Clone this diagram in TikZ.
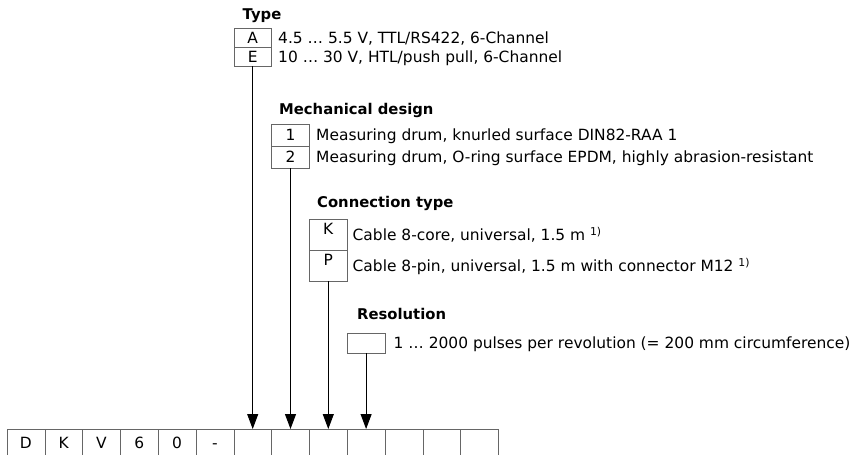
\documentclass[tikz,border=0pt]{standalone}
\usepackage{fontspec}
\setmainfont{DejaVu Sans}
\usetikzlibrary{arrows.meta}

\begin{document}
\begin{tikzpicture}[x=1pt,y=-1pt,
  cell/.style={draw=black!60,line width=0.6pt,minimum width=37.8pt,minimum height=28pt,inner sep=0pt,anchor=north,text height=11.2pt,text depth=0pt,font=\fontsize{15.45}{18}\selectfont},
  key/.style={draw=black!60,line width=0.6pt,minimum width=37.8pt,minimum height=19pt,inner sep=0pt,text height=11.2pt,text depth=0pt,font=\fontsize{15.45}{18}\selectfont},
  tallkey/.style={key,minimum height=31pt,text depth=12pt},
  desc/.style={anchor=west,inner sep=0pt,font=\fontsize{15.45}{18}\selectfont,text height=11.2pt,text depth=0pt},
  head/.style={anchor=base west,inner sep=0pt,font=\fontsize{14.8}{17}\selectfont\bfseries},
  pointer/.style={line width=1pt,-{Triangle[width=11pt,length=15pt]}}]
\useasboundingbox (0,0) rectangle (857,455);

% code row
\node[cell] (c1) at (25.9,429) {D};
\node[cell] (c2) at (63.7,429) {K};
\node[cell] (c3) at (101.5,429) {V};
\node[cell] (c4) at (139.3,429) {6};
\node[cell] (c5) at (177.1,429) {0};
\node[cell] (c6) at (214.9,429) {-};
\node[cell] (c7) at (252.7,429) {};
\node[cell] (c8) at (290.5,429) {};
\node[cell] (c9) at (328.3,429) {};
\node[cell] (c10) at (366.1,429) {};
\node[cell] (c11) at (403.9,429) {};
\node[cell] (c12) at (441.7,429) {};
\node[cell] (c13) at (479.5,429) {};

% type
\node[head] (typeHead) at (242.5,19.5) {Type};
\node[key] (typeA) at (252.7,37.5) {A};
\node[key] (typeE) at (252.7,56.5) {E};
\node[desc] (typeAtxt) at (278,37.5) {4.5 … 5.5 V, TTL/RS422, 6-Channel};
\node[desc] (typeEtxt) at (278,56.5) {10 … 30 V, HTL/push pull, 6-Channel};

% mechanical design
\node[head] (mechHead) at (279,114) {Mechanical design};
\node[key,minimum height=22pt] (mech1) at (290.5,135) {1};
\node[key,minimum height=22pt] (mech2) at (290.5,157) {2};
\node[desc] (mech1txt) at (316,135) {Measuring drum, knurled surface DIN82-RAA 1};
\node[desc] (mech2txt) at (316,157) {Measuring drum, O-ring surface EPDM, highly abrasion-resistant};

% connection type
\node[head] (connHead) at (317,207) {Connection type};
\node[tallkey] (connK) at (328.3,234.5) {K};
\node[tallkey] (connP) at (328.3,265.5) {P};
\node[desc] (connKtxt) at (352.5,235) {Cable 8-core, universal, 1.5 m \textsuperscript{1)}};
\node[desc] (connPtxt) at (352.5,266) {Cable 8-pin, universal, 1.5 m with connector M12 \textsuperscript{1)}};

% resolution
\node[head] (resHead) at (357,319) {Resolution};
\node[key,minimum height=20pt] (resBox) at (366.1,343) {};
\node[desc] (resTxt) at (393.5,342.5) {1 … 2000 pulses per revolution (= 200 mm circumference)};

% arrows
\draw[pointer] (typeE.south) -- (c7.north);
\draw[pointer] (mech2.south) -- (c8.north);
\draw[pointer] (connP.south) -- (c9.north);
\draw[pointer] (resBox.south) -- (c10.north);
\end{tikzpicture}
\end{document}
